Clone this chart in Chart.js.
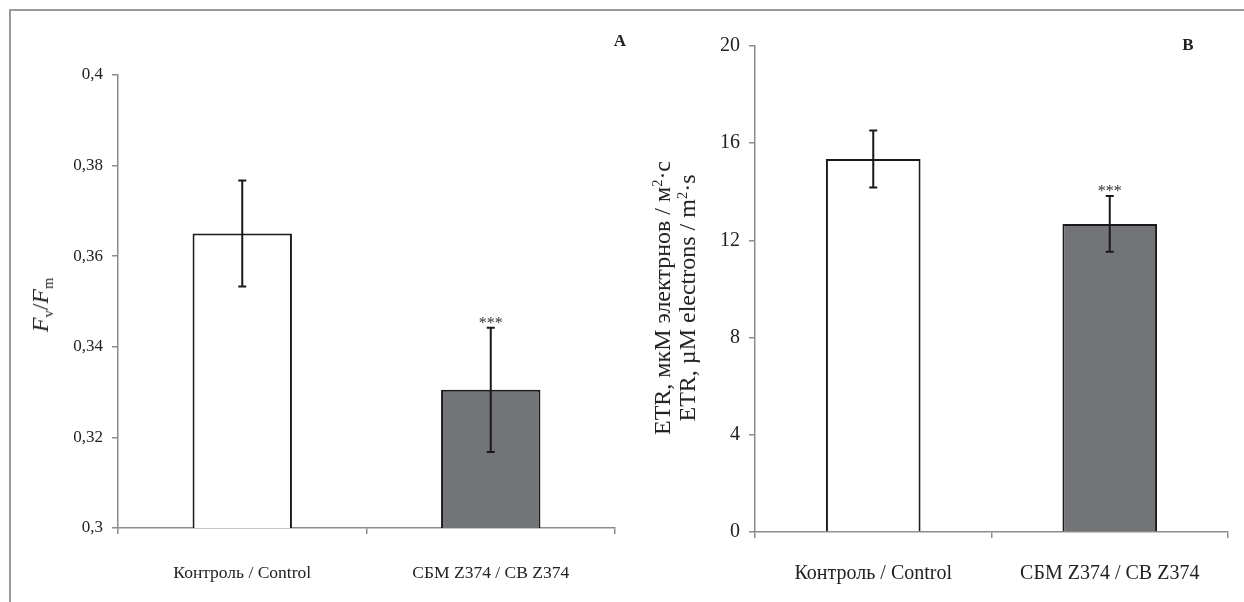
<!DOCTYPE html>
<html>
<head>
<meta charset="utf-8">
<script src="https://cdn.jsdelivr.net/npm/chart.js@4.4.1/dist/chart.umd.min.js"></script>
<style>
    body { margin: 0; background: #fff; width: 1244px; height: 602px; position: relative; overflow: hidden; font-family: "Liberation Serif", serif; color: #222; }
    .frame { position: absolute; left: 9px; top: 9px; width: 1240px; height: 600px; border-left: 2px solid #9a9a9a; border-top: 2px solid #9a9a9a; }
    .panel { position: absolute; top: 0; height: 602px; }
    .ytitle { position: absolute; transform: translate(-50%, -50%) rotate(-90deg); white-space: nowrap; text-align: center; }
    .letter { position: absolute; font-weight: bold; font-size: 17px; transform: translate(-50%, -50%); }
    sub { font-size: 60%; vertical-align: -0.35em; font-style: normal; }
    sup { font-size: 60%; vertical-align: 0.55em; line-height: 0; }
</style>
</head>
<body>
<div class="frame"></div>
<div class="panel" style="left:0;width:640px;"><canvas id="chartA" width="640" height="602"></canvas></div>
<div class="panel" style="left:640px;width:604px;"><canvas id="chartB" width="604" height="602"></canvas></div>

<div class="ytitle" style="left:42px;top:305px;font-size:24px;"><i>F</i><sub>v</sub>/<i>F</i><sub>m</sub></div>
<div class="ytitle" style="left:675px;top:298px;font-size:24px;line-height:25px;">ETR, мкМ электрнов / м<sup>2</sup>·с<br>ETR, µM electrons / m<sup>2</sup>·s</div>
<div class="letter" style="left:620px;top:41px;">A</div>
<div class="letter" style="left:1188px;top:45px;">B</div>

<script>
const categories = ['Контроль / Control', 'СБМ Z374 / CB Z374'];
const barColors = ['#ffffff', '#737478'];
const signif = ['', '***'];

// panel A: Fv/Fm
const fvfmValues = [0.365, 0.3305];
const fvfmErrors = [0.0117, 0.0137];
const fvfmTickLabels = ['0,3', '0,32', '0,34', '0,36', '0,38', '0,4'];

// panel B: ETR
const etrValues = [15.35, 12.68];
const etrErrors = [1.17, 1.15];
const etrTickLabels = ['0', '4', '8', '12', '16', '20'];

const axisGray = '#8c8c8c';
const serif = 'Liberation Serif';

// draws the error bars and the significance stars
const errorBars = {
    id: 'errorBars',
    afterDatasetsDraw(chart, args, opts) {
        const ctx = chart.ctx;
        const yScale = chart.scales.y;
        const meta = chart.getDatasetMeta(0);
        const vals = chart.data.datasets[0].data;
        ctx.save();
        ctx.strokeStyle = '#1a1a1a';
        ctx.lineWidth = 2;
        meta.data.forEach((bar, i) => {
            const top = yScale.getPixelForValue(vals[i] + opts.errors[i]);
            const bot = yScale.getPixelForValue(vals[i] - opts.errors[i]);
            ctx.beginPath();
            ctx.moveTo(bar.x, top); ctx.lineTo(bar.x, bot);
            ctx.moveTo(bar.x - 4, top); ctx.lineTo(bar.x + 4, top);
            ctx.moveTo(bar.x - 4, bot); ctx.lineTo(bar.x + 4, bot);
            ctx.stroke();
            if (opts.stars[i]) {
                ctx.fillStyle = '#333';
                ctx.font = '16px "' + serif + '"';
                ctx.textAlign = 'center';
                ctx.textBaseline = 'bottom';
                ctx.fillText(opts.stars[i], bar.x, top + 4);
            }
        });
        ctx.restore();
    }
};

function makeChart(id, values, errors, yMin, yMax, step, tickLabels, pad, yWidth, xHeight, tickSize, catSize, catPad) {
    return new Chart(document.getElementById(id), {
        type: 'bar',
        data: {
            labels: categories,
            datasets: [{
                data: values,
                backgroundColor: barColors,
                borderColor: '#1a1a1a',
                borderWidth: 2,
                barPercentage: 0.4,
                categoryPercentage: 1
            }]
        },
        options: {
            responsive: false,
            animation: false,
            layout: { padding: pad },
            plugins: {
                legend: { display: false },
                tooltip: { enabled: false },
                errorBars: { errors: errors, stars: signif }
            },
            scales: {
                x: {
                    grid: { drawOnChartArea: false, tickLength: 6, color: axisGray, lineWidth: 1.5, offset: true },
                    border: { color: axisGray, width: 1.5 },
                    ticks: { padding: catPad, color: '#222', font: { family: serif, size: catSize } },
                    afterFit(s) { s.height = xHeight; }
                },
                y: {
                    min: yMin,
                    max: yMax,
                    grid: { drawOnChartArea: false, tickLength: 6, color: axisGray, lineWidth: 1.5 },
                    border: { color: axisGray, width: 1.5 },
                    ticks: {
                        stepSize: step,
                        padding: 9,
                        color: '#222',
                        font: { family: serif, size: tickSize },
                        callback: (v, i) => tickLabels[i]
                    },
                    afterFit(s) { s.width = yWidth; }
                }
            }
        },
        plugins: [errorBars]
    });
}

makeChart('chartA', fvfmValues, fvfmErrors, 0.3, 0.4, 0.02, fvfmTickLabels,
    { left: 0, top: 75, right: 25, bottom: 0 }, 118, 74, 17, 17.5, 29);
makeChart('chartB', etrValues, etrErrors, 0, 20, 4, etrTickLabels,
    { left: 0, top: 46, right: 16, bottom: 0 }, 115, 70, 20, 20, 24);
</script>
</body>
</html>
